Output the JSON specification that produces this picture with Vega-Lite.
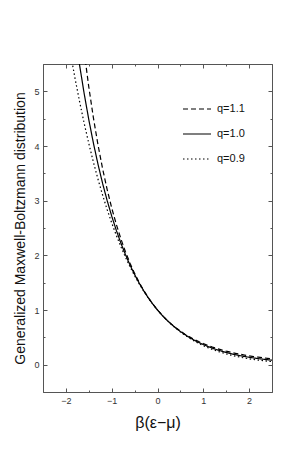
{
  "$schema": "https://vega.github.io/schema/vega-lite/v6.json",
  "width": 229,
  "height": 328,
  "autosize": {"type": "none"},
  "padding": {"left": 43, "top": 64, "right": 28, "bottom": 71},
  "background": "white",
  "config": {
    "view": {"stroke": null},
    "axis": {"grid": false, "domainColor": "#555", "tickColor": "#555", "labelColor": "#333", "labelFont": "Liberation Sans", "labelFontSize": 9, "titleFont": "Liberation Sans", "titleFontWeight": "normal", "titleColor": "#111"}
  },
  "data": {"values": [
    {"x": -1.7, "y": 6.445, "q": "q=1.1"}, {"x": -1.6, "y": 5.717, "q": "q=1.1"}, {"x": -1.5, "y": 5.080, "q": "q=1.1"}, {"x": -1.4, "y": 4.519, "q": "q=1.1"}, {"x": -1.3, "y": 4.025, "q": "q=1.1"}, {"x": -1.2, "y": 3.590, "q": "q=1.1"}, {"x": -1.1, "y": 3.207, "q": "q=1.1"}, {"x": -1.0, "y": 2.868, "q": "q=1.1"}, {"x": -0.9, "y": 2.568, "q": "q=1.1"}, {"x": -0.8, "y": 2.302, "q": "q=1.1"}, {"x": -0.7, "y": 2.066, "q": "q=1.1"}, {"x": -0.6, "y": 1.857, "q": "q=1.1"}, {"x": -0.5, "y": 1.670, "q": "q=1.1"}, {"x": -0.4, "y": 1.504, "q": "q=1.1"}, {"x": -0.3, "y": 1.356, "q": "q=1.1"}, {"x": -0.2, "y": 1.224, "q": "q=1.1"}, {"x": -0.1, "y": 1.106, "q": "q=1.1"}, {"x": 0.0, "y": 1.0, "q": "q=1.1"}, {"x": 0.1, "y": 0.9053, "q": "q=1.1"}, {"x": 0.2, "y": 0.8204, "q": "q=1.1"}, {"x": 0.3, "y": 0.7441, "q": "q=1.1"}, {"x": 0.4, "y": 0.6756, "q": "q=1.1"}, {"x": 0.5, "y": 0.6139, "q": "q=1.1"}, {"x": 0.6, "y": 0.5584, "q": "q=1.1"}, {"x": 0.7, "y": 0.5083, "q": "q=1.1"}, {"x": 0.8, "y": 0.4632, "q": "q=1.1"}, {"x": 0.9, "y": 0.4224, "q": "q=1.1"}, {"x": 1.0, "y": 0.3855, "q": "q=1.1"}, {"x": 1.1, "y": 0.3522, "q": "q=1.1"}, {"x": 1.2, "y": 0.3220, "q": "q=1.1"}, {"x": 1.3, "y": 0.2946, "q": "q=1.1"}, {"x": 1.4, "y": 0.2698, "q": "q=1.1"}, {"x": 1.5, "y": 0.2472, "q": "q=1.1"}, {"x": 1.6, "y": 0.2267, "q": "q=1.1"}, {"x": 1.7, "y": 0.2080, "q": "q=1.1"}, {"x": 1.8, "y": 0.1911, "q": "q=1.1"}, {"x": 1.9, "y": 0.1756, "q": "q=1.1"}, {"x": 2.0, "y": 0.1615, "q": "q=1.1"}, {"x": 2.1, "y": 0.1487, "q": "q=1.1"}, {"x": 2.2, "y": 0.1369, "q": "q=1.1"}, {"x": 2.3, "y": 0.1262, "q": "q=1.1"}, {"x": 2.4, "y": 0.1163, "q": "q=1.1"}, {"x": 2.5, "y": 0.1074, "q": "q=1.1"},
    {"x": -1.8, "y": 6.0496, "q": "q=1.0"}, {"x": -1.7, "y": 5.4739, "q": "q=1.0"}, {"x": -1.6, "y": 4.9530, "q": "q=1.0"}, {"x": -1.5, "y": 4.4817, "q": "q=1.0"}, {"x": -1.4, "y": 4.0552, "q": "q=1.0"}, {"x": -1.3, "y": 3.6693, "q": "q=1.0"}, {"x": -1.2, "y": 3.3201, "q": "q=1.0"}, {"x": -1.1, "y": 3.0042, "q": "q=1.0"}, {"x": -1.0, "y": 2.7183, "q": "q=1.0"}, {"x": -0.9, "y": 2.4596, "q": "q=1.0"}, {"x": -0.8, "y": 2.2255, "q": "q=1.0"}, {"x": -0.7, "y": 2.0138, "q": "q=1.0"}, {"x": -0.6, "y": 1.8221, "q": "q=1.0"}, {"x": -0.5, "y": 1.6487, "q": "q=1.0"}, {"x": -0.4, "y": 1.4918, "q": "q=1.0"}, {"x": -0.3, "y": 1.3499, "q": "q=1.0"}, {"x": -0.2, "y": 1.2214, "q": "q=1.0"}, {"x": -0.1, "y": 1.1052, "q": "q=1.0"}, {"x": 0.0, "y": 1.0, "q": "q=1.0"}, {"x": 0.1, "y": 0.9048, "q": "q=1.0"}, {"x": 0.2, "y": 0.8187, "q": "q=1.0"}, {"x": 0.3, "y": 0.7408, "q": "q=1.0"}, {"x": 0.4, "y": 0.6703, "q": "q=1.0"}, {"x": 0.5, "y": 0.6065, "q": "q=1.0"}, {"x": 0.6, "y": 0.5488, "q": "q=1.0"}, {"x": 0.7, "y": 0.4966, "q": "q=1.0"}, {"x": 0.8, "y": 0.4493, "q": "q=1.0"}, {"x": 0.9, "y": 0.4066, "q": "q=1.0"}, {"x": 1.0, "y": 0.3679, "q": "q=1.0"}, {"x": 1.1, "y": 0.3329, "q": "q=1.0"}, {"x": 1.2, "y": 0.3012, "q": "q=1.0"}, {"x": 1.3, "y": 0.2725, "q": "q=1.0"}, {"x": 1.4, "y": 0.2466, "q": "q=1.0"}, {"x": 1.5, "y": 0.2231, "q": "q=1.0"}, {"x": 1.6, "y": 0.2019, "q": "q=1.0"}, {"x": 1.7, "y": 0.1827, "q": "q=1.0"}, {"x": 1.8, "y": 0.1653, "q": "q=1.0"}, {"x": 1.9, "y": 0.1496, "q": "q=1.0"}, {"x": 2.0, "y": 0.1353, "q": "q=1.0"}, {"x": 2.1, "y": 0.1225, "q": "q=1.0"}, {"x": 2.2, "y": 0.1108, "q": "q=1.0"}, {"x": 2.3, "y": 0.1003, "q": "q=1.0"}, {"x": 2.4, "y": 0.0907, "q": "q=1.0"}, {"x": 2.5, "y": 0.0821, "q": "q=1.0"},
    {"x": -2.0, "y": 6.192, "q": "q=0.9"}, {"x": -1.9, "y": 5.695, "q": "q=0.9"}, {"x": -1.8, "y": 5.234, "q": "q=0.9"}, {"x": -1.7, "y": 4.807, "q": "q=0.9"}, {"x": -1.6, "y": 4.411, "q": "q=0.9"}, {"x": -1.5, "y": 4.046, "q": "q=0.9"}, {"x": -1.4, "y": 3.707, "q": "q=0.9"}, {"x": -1.3, "y": 3.395, "q": "q=0.9"}, {"x": -1.2, "y": 3.106, "q": "q=0.9"}, {"x": -1.1, "y": 2.839, "q": "q=0.9"}, {"x": -1.0, "y": 2.594, "q": "q=0.9"}, {"x": -0.9, "y": 2.367, "q": "q=0.9"}, {"x": -0.8, "y": 2.159, "q": "q=0.9"}, {"x": -0.7, "y": 1.967, "q": "q=0.9"}, {"x": -0.6, "y": 1.791, "q": "q=0.9"}, {"x": -0.5, "y": 1.629, "q": "q=0.9"}, {"x": -0.4, "y": 1.480, "q": "q=0.9"}, {"x": -0.3, "y": 1.344, "q": "q=0.9"}, {"x": -0.2, "y": 1.219, "q": "q=0.9"}, {"x": -0.1, "y": 1.105, "q": "q=0.9"}, {"x": 0.0, "y": 1.0, "q": "q=0.9"}, {"x": 0.1, "y": 0.9044, "q": "q=0.9"}, {"x": 0.2, "y": 0.8171, "q": "q=0.9"}, {"x": 0.3, "y": 0.7374, "q": "q=0.9"}, {"x": 0.4, "y": 0.6648, "q": "q=0.9"}, {"x": 0.5, "y": 0.5987, "q": "q=0.9"}, {"x": 0.6, "y": 0.5386, "q": "q=0.9"}, {"x": 0.7, "y": 0.4840, "q": "q=0.9"}, {"x": 0.8, "y": 0.4344, "q": "q=0.9"}, {"x": 0.9, "y": 0.3894, "q": "q=0.9"}, {"x": 1.0, "y": 0.3487, "q": "q=0.9"}, {"x": 1.1, "y": 0.3118, "q": "q=0.9"}, {"x": 1.2, "y": 0.2785, "q": "q=0.9"}, {"x": 1.3, "y": 0.2484, "q": "q=0.9"}, {"x": 1.4, "y": 0.2213, "q": "q=0.9"}, {"x": 1.5, "y": 0.1969, "q": "q=0.9"}, {"x": 1.6, "y": 0.1749, "q": "q=0.9"}, {"x": 1.7, "y": 0.1552, "q": "q=0.9"}, {"x": 1.8, "y": 0.1374, "q": "q=0.9"}, {"x": 1.9, "y": 0.1216, "q": "q=0.9"}, {"x": 2.0, "y": 0.1074, "q": "q=0.9"}, {"x": 2.1, "y": 0.0947, "q": "q=0.9"}, {"x": 2.2, "y": 0.0834, "q": "q=0.9"}, {"x": 2.3, "y": 0.0733, "q": "q=0.9"}, {"x": 2.4, "y": 0.0643, "q": "q=0.9"}, {"x": 2.5, "y": 0.0563, "q": "q=0.9"}
  ]},
  "resolve": {"axis": {"x": "independent", "y": "independent"}},
  "layer": [
    {
      "mark": {"type": "line", "clip": true, "color": "black", "strokeWidth": 1.2},
      "encoding": {
        "x": {"field": "x", "type": "quantitative", "scale": {"domain": [-2.5, 2.5], "nice": false, "zero": false},
          "axis": {"orient": "bottom", "values": [-2, -1, 0, 1, 2], "tickSize": -4, "labelPadding": 8, "title": "β(ε−μ)", "titleFontSize": 16, "titlePadding": 9}},
        "y": {"field": "y", "type": "quantitative", "scale": {"domain": [-0.5, 5.5], "nice": false, "zero": false},
          "axis": {"orient": "left", "values": [0, 1, 2, 3, 4, 5], "tickSize": -4, "labelPadding": 8, "title": "Generalized Maxwell-Boltzmann distribution", "titleFontSize": 14, "titlePadding": 6}},
        "strokeDash": {"field": "q", "type": "nominal",
          "scale": {"domain": ["q=1.1", "q=1.0", "q=0.9"], "range": [[5, 3], [1, 0], [1.5, 2.5]]},
          "legend": {"title": null, "orient": "none", "legendX": 139, "legendY": 30, "symbolType": "stroke", "symbolSize": 784, "symbolStrokeColor": "black", "symbolStrokeWidth": 1.2, "labelFont": "Liberation Sans", "labelFontSize": 11, "labelColor": "#111", "rowPadding": 5, "labelOffset": 5}}
      }
    },
    {
      "mark": {"type": "line", "opacity": 0},
      "encoding": {
        "x": {"field": "x", "type": "quantitative", "axis": {"orient": "bottom", "values": [-2.5, -1.5, -0.5, 0.5, 1.5, 2.5], "tickSize": -2, "labels": false, "domain": false, "title": null}},
        "y": {"field": "y", "type": "quantitative", "axis": {"orient": "left", "values": [-0.5, 0.5, 1.5, 2.5, 3.5, 4.5, 5.5], "tickSize": -2, "labels": false, "domain": false, "title": null}},
        "detail": {"field": "q"}
      }
    },
    {
      "mark": {"type": "line", "opacity": 0},
      "encoding": {
        "x": {"field": "x", "type": "quantitative", "axis": {"orient": "top", "values": [-2, -1, 0, 1, 2], "tickSize": -4, "labels": false, "title": null}},
        "y": {"field": "y", "type": "quantitative", "axis": {"orient": "right", "values": [0, 1, 2, 3, 4, 5], "tickSize": -4, "labels": false, "title": null}},
        "detail": {"field": "q"}
      }
    },
    {
      "mark": {"type": "line", "opacity": 0},
      "encoding": {
        "x": {"field": "x", "type": "quantitative", "axis": {"orient": "top", "values": [-2.5, -1.5, -0.5, 0.5, 1.5, 2.5], "tickSize": -2, "labels": false, "domain": false, "title": null}},
        "y": {"field": "y", "type": "quantitative", "axis": {"orient": "right", "values": [-0.5, 0.5, 1.5, 2.5, 3.5, 4.5, 5.5], "tickSize": -2, "labels": false, "domain": false, "title": null}},
        "detail": {"field": "q"}
      }
    }
  ]
}
